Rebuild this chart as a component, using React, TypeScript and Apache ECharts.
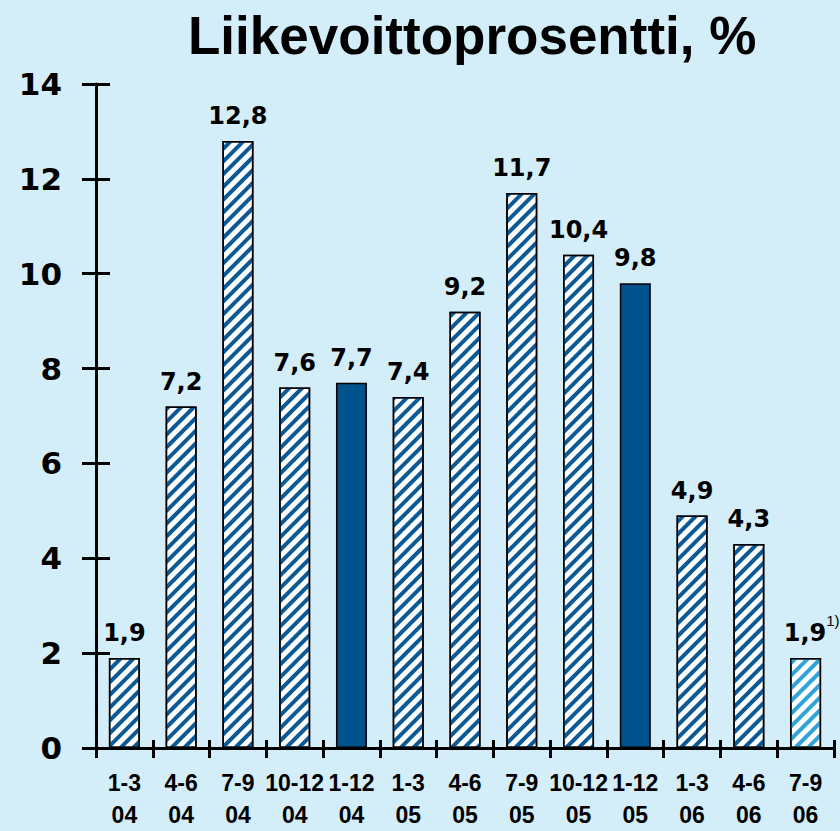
import React, { useEffect, useRef } from 'react';
import * as echarts from 'echarts';

const title = 'Liikevoittoprosentti, %';
const categories = ['1-3\n04', '4-6\n04', '7-9\n04', '10-12\n04', '1-12\n04', '1-3\n05', '4-6\n05', '7-9\n05', '10-12\n05', '1-12\n05', '1-3\n06', '4-6\n06', '7-9\n06'];
const values = [1.9, 7.2, 12.8, 7.6, 7.7, 7.4, 9.2, 11.7, 10.4, 9.8, 4.9, 4.3, 1.9];
const valueLabels = ['1,9', '7,2', '12,8', '7,6', '7,7', '7,4', '9,2', '11,7', '10,4', '9,8', '4,9', '4,3', '1,9'];
// q = quarter (hatched), y = full year (solid), p = preliminary quarter (light hatched, footnote)
const kinds = ['q', 'q', 'q', 'q', 'y', 'q', 'q', 'q', 'q', 'y', 'q', 'q', 'p'];
const footnote = '1)';
const yMin = 0;
const yMax = 14;
const yInterval = 2;

const BG = '#d3edf9';
const DARK = '#00528c';
const STRIPE = '#0b5a96';
const LIGHT = '#2ea4d8';

export default function App() {
  const ref = useRef<HTMLDivElement>(null);
  useEffect(() => {
    if (!ref.current) return;
    const chart = echarts.init(ref.current, undefined, { renderer: 'svg' });
    const data = values.map((v, i) => {
      const k = kinds[i];
      if (k === 'y') {
        return { value: v, itemStyle: { color: DARK, borderColor: '#000', borderWidth: 1.5 } };
      }
      return {
        value: v,
        itemStyle: {
          color: '#ffffff',
          borderColor: '#000',
          borderWidth: 1.5,
          decal: {
            symbol: 'rect',
            symbolSize: 1,
            dashArrayX: [1, 0],
            dashArrayY: [3.4, 5],
            rotation: -Math.PI / 4,
            color: k === 'p' ? LIGHT : STRIPE,
          },
        },
      };
    });
    const numFont = { fontFamily: 'DejaVu Sans', fontWeight: 'bold' as const, color: '#000' };
    chart.setOption({
      animation: false,
      backgroundColor: BG,
      title: {
        text: title,
        left: 183,
        top: 4,
        textStyle: { fontFamily: 'Liberation Sans', fontWeight: 'bold', fontSize: 53, color: '#000' },
      },
      grid: { left: 96, top: 84, width: 738, height: 669, containLabel: false },
      xAxis: [
        {
          type: 'category',
          data: categories,
          position: 'bottom',
          axisLine: { lineStyle: { color: '#000', width: 3 } },
          axisTick: { show: true, inside: false, length: 10, lineStyle: { color: '#000', width: 3 } },
          axisLabel: {
            interval: 0,
            margin: 19,
            fontFamily: 'Liberation Sans',
            fontWeight: 'bold',
            fontSize: 23,
            lineHeight: 32,
            color: '#000',
          },
        },
        {
          type: 'category',
          data: categories,
          position: 'bottom',
          axisLine: { show: false },
          axisTick: { show: true, inside: true, length: 8, lineStyle: { color: '#000', width: 3 } },
          axisLabel: { show: false },
        },
      ],
      yAxis: [
        {
          type: 'value',
          min: yMin,
          max: yMax,
          interval: yInterval,
          position: 'left',
          splitLine: { show: false },
          axisLine: { show: true, lineStyle: { color: '#000', width: 3 } },
          axisTick: { show: true, inside: false, length: 14, lineStyle: { color: '#000', width: 3 } },
          axisLabel: { margin: 34, fontSize: 31, ...numFont },
        },
        {
          type: 'value',
          min: yMin,
          max: yMax,
          interval: yInterval,
          position: 'left',
          splitLine: { show: false },
          axisLine: { show: false },
          axisTick: { show: true, inside: true, length: 14, lineStyle: { color: '#000', width: 3 } },
          axisLabel: { show: false },
        },
      ],
      series: [
        {
          type: 'bar',
          xAxisIndex: 0,
          yAxisIndex: 0,
          barWidth: 31,
          data,
          label: {
            show: true,
            position: 'top',
            distance: 13,
            formatter: (p: any) => {
              const i = p.dataIndex;
              if (kinds[i] === 'p') return `{m|${valueLabels[i]}}{s|${footnote}}`;
              return `{v|${valueLabels[i]}}`;
            },
            rich: {
              v: { ...numFont, fontSize: 24 },
              m: { ...numFont, fontSize: 24, padding: [0, 0, 0, 12], verticalAlign: 'bottom', lineHeight: 28 },
              s: { fontFamily: 'Liberation Sans', fontSize: 15, color: '#000', verticalAlign: 'bottom', lineHeight: 15, padding: [0, 0, 17, 0] },
            },
          },
        },
      ],
    });
    return () => chart.dispose();
  }, []);
  return <div ref={ref} style={{ position: 'fixed', left: 0, top: 0, width: 840, height: 831 }} />;
}
